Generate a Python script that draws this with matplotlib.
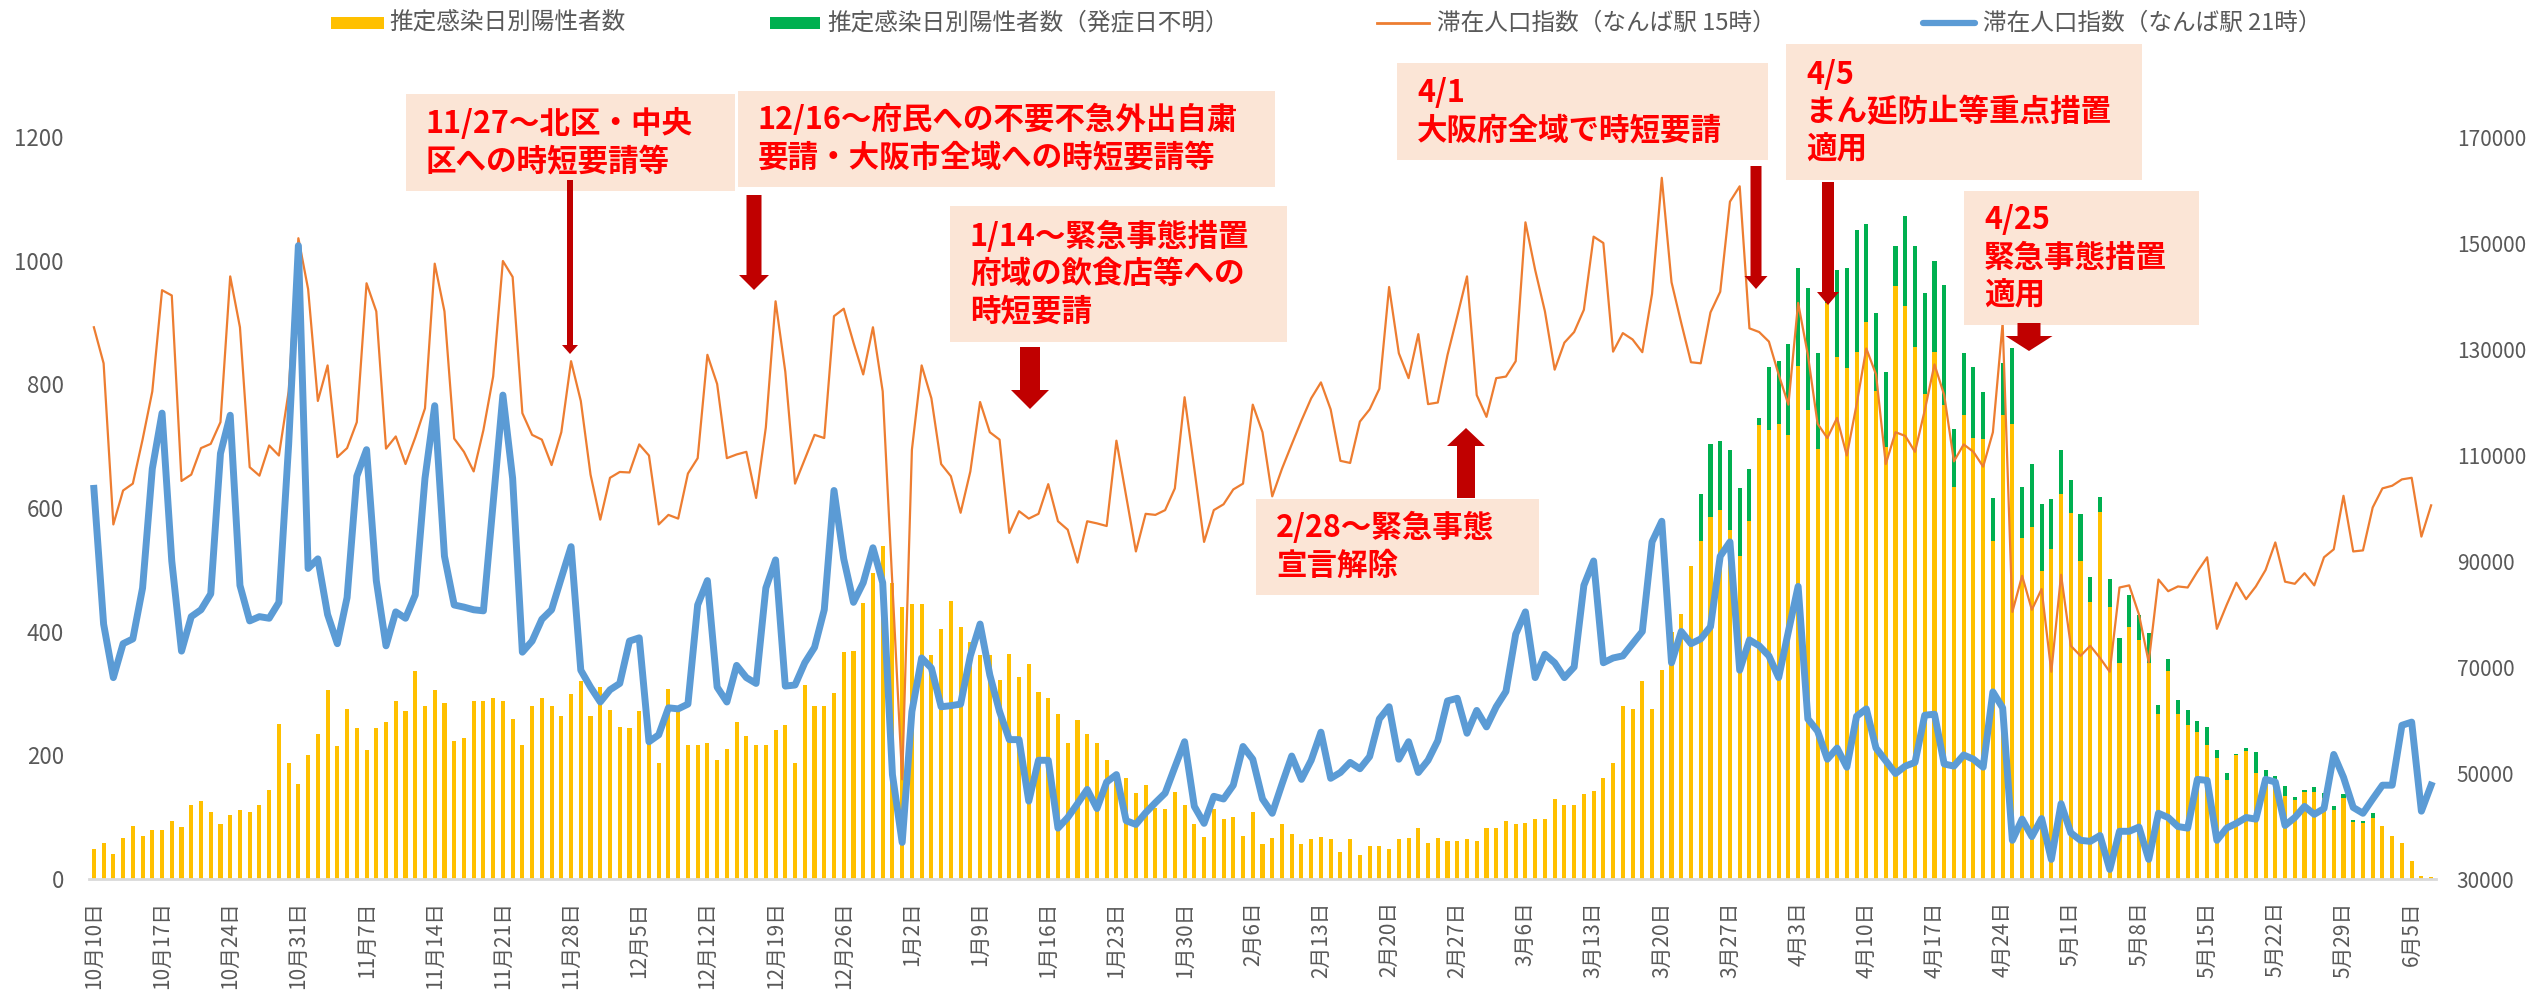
import numpy as np
import pandas as pd
import matplotlib
matplotlib.use("Agg")
import matplotlib.pyplot as plt
from matplotlib.patches import Rectangle, Polygon
from matplotlib.lines import Line2D

plt.rcParams['font.family'] = ['Noto Sans CJK JP', 'DejaVu Sans']

W, H = 2532, 1002

# 2020-10-10 .. 2021-06-07, one value per day
dates = pd.date_range('2020-10-10', '2021-06-07', freq='D')

# 推定感染日別陽性者数
positives = [
    49, 59, 41, 67, 86, 69, 80, 80, 94, 84, 119, 126, 109, 89, 103, 111, 109, 119, 144, 250,
    188, 153, 200, 234, 305, 215, 275, 244, 209, 244, 254, 288, 271, 336, 280, 305, 284, 223, 228, 288,
    288, 292, 288, 259, 217, 279, 293, 280, 263, 300, 321, 263, 311, 274, 246, 245, 271, 240, 188, 308,
    271, 216, 216, 220, 192, 210, 254, 232, 217, 216, 241, 249, 188, 314, 279, 280, 301, 367, 369, 447,
    495, 539, 479, 440, 445, 445, 363, 404, 450, 408, 383, 363, 363, 322, 364, 327, 348, 302, 292, 267,
    220, 257, 234, 220, 192, 169, 164, 139, 152, 115, 114, 141, 119, 89, 68, 114, 97, 100, 70, 108,
    57, 66, 89, 73, 57, 64, 68, 65, 43, 65, 39, 53, 54, 48, 65, 67, 82, 58, 67, 61,
    61, 65, 61, 82, 82, 93, 89, 90, 97, 97, 130, 120, 120, 137, 143, 164, 187, 279, 275, 320,
    275, 338, 400, 428, 506, 546, 585, 597, 565, 522, 579, 734, 726, 736, 718, 830, 759, 695, 932, 844,
    827, 853, 901, 789, 699, 959, 926, 861, 785, 852, 767, 634, 751, 714, 712, 546, 750, 736, 552, 569,
    498, 534, 622, 592, 515, 448, 594, 440, 350, 408, 387, 350, 267, 336, 267, 249, 237, 216, 195, 160,
    200, 207, 171, 165, 159, 135, 127, 141, 141, 131, 112, 131, 92, 90, 98, 86, 69, 59, 29, 5, 4,
]

# 推定感染日別陽性者数（発症日不明） - only from 3/24
positives_unknown = [0] * 165 + [
    76, 118, 112, 128, 110, 84, 11, 102, 102, 147,
    158, 196, 155, 14, 141, 161, 197, 159, 126, 121,
    65, 147, 162, 163, 147, 193, 94, 99, 114, 76,
    70, 84, 122, 82, 102, 108, 81, 72, 53, 76,
    40, 23, 45, 39, 52, 40, 48, 14, 19, 22,
    25, 18, 30, 14, 11, 2, 5, 35, 12, 7,
    16, 6, 3, 8, 8, 6, 6, 3, 3, 8,
] + [0] * 6

# 滞在人口指数（なんば駅 15時）, in thousands
namba_15 = [
    134.1, 127.3, 96.9, 103.3, 104.6, 112.9, 122.0, 141.1, 140.1, 105.1,
    106.3, 111.3, 112.1, 116.2, 143.7, 134.1, 107.7, 106.1, 111.8, 109.9,
    122.0, 150.9, 141.3, 120.2, 126.9, 109.6, 111.3, 116.2, 142.4, 137.1,
    111.2, 113.5, 108.3, 113.3, 118.8, 146.1, 137.1, 113.1, 110.6, 106.9,
    114.7, 124.8, 146.6, 143.6, 117.9, 113.8, 112.9, 108.1, 114.3, 127.7,
    120.2, 106.3, 97.8, 105.7, 106.8, 106.7, 112.0, 109.9, 96.9, 98.7,
    98.0, 106.5, 109.4, 128.9, 123.4, 109.4, 110.1, 110.6, 101.9, 115.2,
    139.0, 125.7, 104.6, 109.2, 113.8, 113.2, 136.2, 137.6, 131.2, 125.2,
    134.1, 122.0, 85.4, 48.8, 111.0, 126.9, 120.7, 108.3, 106.0, 99.1,
    106.9, 120.0, 114.3, 112.9, 95.3, 99.4, 98.0, 98.9, 104.5, 97.5,
    95.9, 89.7, 97.5, 97.1, 96.6, 112.7, 102.3, 91.8, 98.9, 98.7,
    99.6, 103.7, 120.9, 107.4, 93.6, 99.6, 100.7, 103.5, 104.6, 119.5,
    114.3, 102.2, 107.4, 112.0, 116.5, 120.7, 123.7, 118.6, 108.9, 108.5,
    116.3, 118.6, 122.5, 141.7, 129.2, 124.5, 132.8, 119.6, 119.9, 128.9,
    136.2, 143.7, 121.3, 117.2, 124.5, 124.8, 127.7, 153.9, 144.9, 137.1,
    126.1, 131.2, 133.2, 137.4, 151.2, 150.0, 129.5, 133.0, 131.8, 129.4,
    140.4, 162.3, 142.6, 134.9, 127.5, 127.3, 136.9, 140.8, 157.8, 160.7,
    133.9, 133.2, 131.4, 125.2, 119.5, 138.7, 128.9, 115.9, 113.2, 117.0,
    109.9, 119.5, 130.1, 125.2, 108.3, 114.3, 113.6, 110.6, 118.4, 127.1,
    121.3, 108.8, 112.0, 110.6, 107.8, 114.3, 134.9, 80.4, 87.2, 80.8,
    84.7, 69.1, 87.4, 74.0, 72.1, 74.0, 71.7, 69.1, 85.0, 85.4,
    79.9, 70.9, 86.5, 84.3, 85.2, 85.0, 88.0, 90.7, 77.2, 81.7,
    85.9, 82.8, 85.2, 88.3, 93.5, 86.1, 85.7, 87.7, 85.4, 90.7,
    92.2, 102.3, 91.8, 92.0, 100.1, 103.7, 104.2, 105.4, 105.7, 94.6, 100.5,
]

# 滞在人口指数（なんば駅 21時）, in thousands
namba_21 = [
    103.7, 78.1, 68.0, 74.4, 75.3, 84.9, 107.4, 117.9, 90.0, 73.0,
    79.5, 80.8, 83.8, 110.3, 117.5, 85.4, 78.7, 79.5, 79.2, 82.2,
    112.0, 149.5, 88.6, 90.4, 79.9, 74.4, 83.1, 106.0, 111.0, 86.3,
    74.0, 80.4, 79.2, 83.6, 105.6, 119.3, 90.9, 81.7, 81.3, 80.8,
    80.6, 101.0, 121.3, 105.6, 72.8, 74.9, 79.0, 80.8, 86.8, 92.7,
    69.4, 66.2, 63.4, 65.7, 66.9, 74.9, 75.5, 55.9, 57.2, 62.3,
    62.1, 63.0, 81.7, 86.3, 66.2, 63.4, 70.3, 68.0, 66.9, 84.9,
    90.2, 66.4, 66.6, 70.8, 73.7, 80.8, 103.3, 90.4, 82.2, 85.9,
    92.5, 85.9, 49.7, 36.9, 61.6, 71.7, 69.8, 62.5, 62.7, 63.0,
    72.1, 78.1, 68.5, 61.6, 56.3, 56.3, 44.7, 52.4, 52.4, 39.6,
    41.6, 44.2, 46.9, 43.3, 48.3, 49.7, 41.0, 40.3, 42.5, 44.4,
    46.2, 51.1, 55.9, 43.7, 40.5, 45.6, 45.1, 47.7, 55.0, 52.6,
    45.1, 42.4, 47.9, 53.2, 48.8, 52.4, 57.7, 49.0, 50.1, 52.0,
    50.8, 53.1, 60.2, 62.5, 52.6, 55.9, 50.1, 52.4, 56.1, 63.6,
    64.1, 57.5, 61.8, 58.7, 62.5, 65.4, 76.2, 80.4, 68.0, 72.4,
    70.8, 68.0, 70.0, 85.4, 90.0, 70.8, 71.7, 72.1, 74.4, 76.7,
    93.6, 97.5, 70.8, 76.7, 74.4, 75.3, 77.6, 90.9, 93.6, 69.4,
    75.1, 74.0, 72.1, 68.0, 76.7, 85.2, 60.2, 57.9, 52.6, 54.7,
    51.1, 60.7, 62.1, 54.7, 52.3, 49.9, 51.3, 52.0, 60.9, 61.1,
    51.7, 51.3, 53.4, 52.6, 51.1, 65.3, 62.3, 37.3, 41.3, 38.0,
    41.4, 33.7, 44.2, 38.7, 37.3, 37.1, 38.2, 31.8, 39.0, 39.0,
    39.8, 33.7, 42.4, 41.6, 39.9, 39.6, 48.8, 48.6, 37.3, 39.6,
    40.5, 41.6, 41.3, 48.8, 48.3, 40.1, 41.6, 43.7, 42.2, 43.3,
    53.5, 49.2, 43.5, 42.4, 45.1, 47.7, 47.7, 59.0, 59.6, 42.8, 47.7,
]

legend_labels = ['推定感染日別陽性者数', '推定感染日別陽性者数（発症日不明）',
                 '滞在人口指数（なんば駅 15時）', '滞在人口指数（なんば駅 21時）']

# (left, top, right, bottom) in pixels, text
notes = [
    ((406, 94, 735, 191), '11/27～北区・中央\n区への時短要請等'),
    ((738, 91, 1275, 187), '12/16～府民への不要不急外出自粛\n要請・大阪市全域への時短要請等'),
    ((950, 206, 1287, 342), '1/14～緊急事態措置\n府域の飲食店等への\n時短要請'),
    ((1256, 499, 1539, 595), '2/28～緊急事態\n宣言解除'),
    ((1397, 63, 1768, 160), '4/1\n大阪府全域で時短要請'),
    ((1786, 44, 2142, 180), '4/5\nまん延防止等重点措置\n適用'),
    ((1964, 191, 2199, 325), '4/25\n緊急事態措置\n適用'),
]

# x centre, base, tip, shaft width, head width, head length (pixels)
arrows = [
    (570, 180, 354, 6, 16, 9),
    (754, 195, 290, 15, 30, 15),
    (1030, 347, 409, 20, 38, 19),
    (1466, 498, 428, 18, 38, 18),
    (1756, 166, 289, 11, 23, 13),
    (1828, 182, 305, 12, 22, 13),
    (2029, 323, 351, 23, 47, 15),
]

YELLOW = '#FFC000'
GREEN = '#00B050'
ORANGE = '#ED7D31'
BLUE = '#5B9BD5'
GRAY = '#595959'
NOTE_BG = '#FBE5D6'
NOTE_RED = '#FF0000'
ARROW_RED = '#C00000'


def fx(px):
    return px / W


def fy(py):
    return 1 - py / H


fig = plt.figure(figsize=(W / 100, H / 100), dpi=100)
ax = fig.add_axes([fx(89), fy(879), fx(2436) - fx(89), fy(137) - fy(879)])

x = np.arange(len(dates))
ax.bar(x, positives, width=0.42, color=YELLOW, zorder=2)
ax.bar(x, positives_unknown, bottom=positives, width=0.42, color=GREEN, zorder=2)
ax.set_xlim(-0.5, len(dates) - 0.5)
ax.set_ylim(0, 1200)
ax.set_yticks(range(0, 1201, 200))

tick_idx = x[::7]
tick_lab = [f"{d.month}月{d.day}日" for d in dates[::7]]
ax.set_xticks(tick_idx, tick_lab, rotation=90)
ax.tick_params(axis='x', length=0, pad=16, labelsize=15, colors=GRAY)
ax.tick_params(axis='y', length=0, pad=18, labelsize=16, colors=GRAY)

ax2 = ax.twinx()
ax2.plot(x, np.array(namba_15) * 1000, color=ORANGE, lw=1.6, zorder=3)
ax2.plot(x, np.array(namba_21) * 1000, color=BLUE, lw=5, solid_joinstyle='round', zorder=4)
ax2.set_ylim(30000, 170000)
ax2.set_yticks(range(30000, 170001, 20000))
ax2.tick_params(axis='y', length=0, pad=15, labelsize=15, colors=GRAY)

for a in (ax, ax2):
    for s in ('top', 'left', 'right'):
        a.spines[s].set_visible(False)
ax2.spines['bottom'].set_visible(False)
ax.spines['bottom'].set_color('#D9D9D9')
ax.spines['bottom'].set_linewidth(2)

# legend row
ly = 23
fig.add_artist(Rectangle((fx(331), fy(ly + 6)), fx(53), 12 / H, transform=fig.transFigure,
                         facecolor=YELLOW, edgecolor='none'))
fig.text(fx(389), fy(ly), legend_labels[0], fontsize=17, color=GRAY, va='center')
fig.add_artist(Rectangle((fx(770), fy(ly + 6)), fx(50), 12 / H, transform=fig.transFigure,
                         facecolor=GREEN, edgecolor='none'))
fig.text(fx(827), fy(ly), legend_labels[1], fontsize=17, color=GRAY, va='center')
fig.add_artist(Line2D([fx(1377), fx(1429)], [fy(ly), fy(ly)], transform=fig.transFigure,
                      color=ORANGE, lw=2))
fig.text(fx(1437), fy(ly), legend_labels[2], fontsize=17, color=GRAY, va='center')
fig.add_artist(Line2D([fx(1923), fx(1975)], [fy(ly), fy(ly)], transform=fig.transFigure,
                      color=BLUE, lw=4.5, solid_capstyle='round'))
fig.text(fx(1983), fy(ly), legend_labels[3], fontsize=17, color=GRAY, va='center')

# annotation boxes
for (l, t, r, b), txt in notes:
    fig.add_artist(Rectangle((fx(l), fy(b)), fx(r) - fx(l), fy(t) - fy(b),
                             transform=fig.transFigure, facecolor=NOTE_BG,
                             edgecolor='none', zorder=5))
    fig.text(fx(l + 20), fy((t + b) / 2), txt, fontsize=22, fontweight='bold',
             color=NOTE_RED, va='center', ha='left', linespacing=1.22, zorder=6)

# block arrows
for xc, base, tip, shaft, head, hl in arrows:
    sgn = 1 if tip > base else -1
    neck = tip - sgn * hl
    pts = [(xc - shaft / 2, base), (xc + shaft / 2, base), (xc + shaft / 2, neck),
           (xc + head / 2, neck), (xc, tip), (xc - head / 2, neck), (xc - shaft / 2, neck)]
    fig.add_artist(Polygon([(fx(px), fy(py)) for px, py in pts], closed=True,
                           transform=fig.transFigure, facecolor=ARROW_RED,
                           edgecolor='none', zorder=7))

fig.savefig('out.png', dpi=100)
